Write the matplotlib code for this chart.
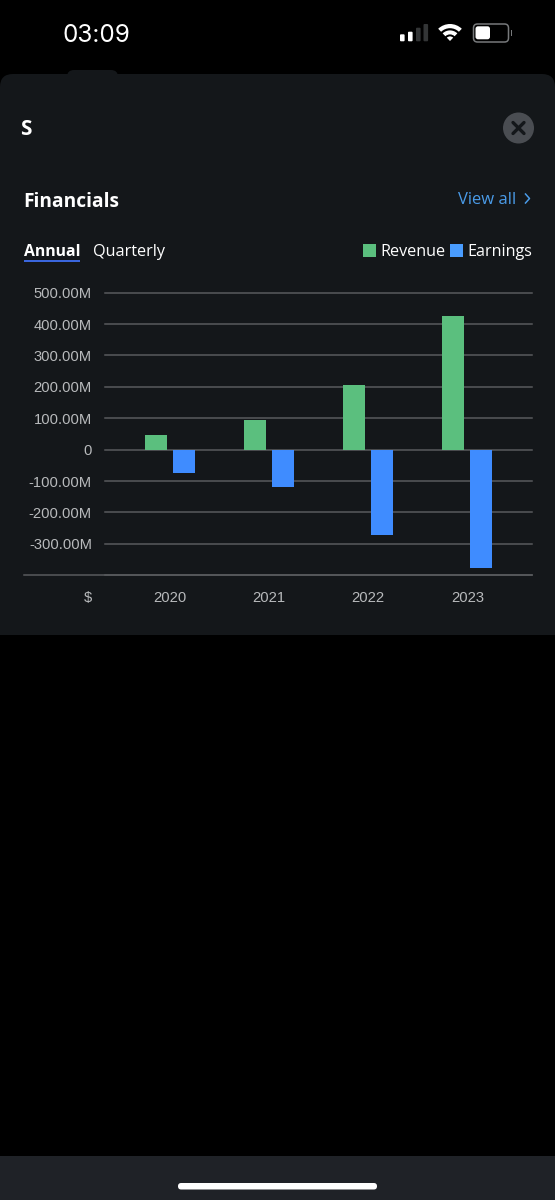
"""Dark mobile financials card: annual revenue and earnings bars."""

import matplotlib
matplotlib.use("Agg")
import matplotlib.pyplot as plt
import numpy as np
from matplotlib.patches import Circle, FancyBboxPatch, Rectangle, Wedge

years = ["2020", "2021", "2022", "2023"]
revenue = [47, 94, 206, 425]
earnings = [-75, -118, -272, -378]
y_ticks = [500, 400, 300, 200, 100, 0, -100, -200, -300, -400]
y_labels = ["500.00M", "400.00M", "300.00M", "200.00M", "100.00M", "0",
            "-100.00M", "-200.00M", "-300.00M", ""]

GREEN = "#5BBF7E"
BLUE = "#3F8CFF"
PANEL = "#14171A"
GRID = "#585A5D"
TICK_TEXT = "#B8BABC"
UI_FONT = "Open Sans"
W, H = 555, 1200

fig = plt.figure(figsize=(W / 100, H / 100), dpi=100, facecolor="black")

# full-figure layer in pixel coordinates for the app chrome
ui = fig.add_axes([0, 0, 1, 1], zorder=0)
ui.set_xlim(0, W)
ui.set_ylim(H, 0)
ui.axis("off")


def round_box(x, y, w, h, r, color):
    ui.add_patch(FancyBboxPatch((x + r, y + r), w - 2 * r, h - 2 * r,
                                boxstyle=f"round,pad={r},rounding_size={r}",
                                fc=color, ec="none"))


# status bar
ui.text(96, 35, "03:09", color="white", fontsize=17.5, family="Inter",
        ha="center", va="center")
for x, top, col in [(400, 34.3, "white"), (408, 31.7, "white"),
                    (416, 27.7, "#333536"), (423.5, 24, "#333536")]:
    round_box(x, top, 4.6, 41.3 - top, 1.0, col)
for r_out, width in [(17, 4.2), (10.6, 4.0), (4.6, 4.6)]:
    ui.add_patch(Wedge((450, 41), r_out, 226, 314, width=width, fc="white", ec="none"))
ui.add_patch(FancyBboxPatch((475, 25.5), 32, 15, boxstyle="round,pad=1.5,rounding_size=4",
                            fc="none", ec="#77797B", lw=1.1))
round_box(475.5, 26.3, 14.5, 13, 2.5, "white")
ui.add_patch(Rectangle((511, 30), 1.4, 6, fc="#77797B", ec="none"))

# card and bottom bar, only the top corners of the card are rounded
round_box(67, 70, 51, 20, 7, PANEL)
round_box(0, 74, W, 561, 13, PANEL)
ui.add_patch(Rectangle((0, 600), W, 35, fc=PANEL, ec="none"))
ui.add_patch(Rectangle((0, 1156), W, 44, fc="#1F2227", ec="none"))
round_box(178, 1183, 199, 6.5, 3.2, "white")

# header
ui.text(20.5, 129.5, "S", color="white", fontsize=15, fontweight="bold", family=UI_FONT,
        ha="left", va="center")
ui.add_patch(Circle((518.5, 128), 15.5, fc="#4A4D52", ec="none"))
ui.plot([513, 524], [122.5, 133.5], color="#14171A", lw=2.4, solid_capstyle="round")
ui.plot([513, 524], [133.5, 122.5], color="#14171A", lw=2.4, solid_capstyle="round")

ui.text(23.5, 202, "Financials", color="white", fontsize=13.8, fontweight="bold",
        family=UI_FONT, ha="left", va="center")
ui.text(458, 199.5, "View all", color="#4A9BE8", fontsize=12, family=UI_FONT,
        ha="left", va="center")
ui.plot([525.5, 529.5, 525.5], [194, 198.5, 203], color="#4A9BE8", lw=1.1)

# tabs
ui.text(23.5, 251.5, "Annual", color="white", fontsize=11.3, fontweight="bold",
        family=UI_FONT, ha="left", va="center")
ui.add_patch(Rectangle((23.5, 259.5), 56.5, 2.4, fc="#3A66DD", ec="none"))
ui.text(93, 251.5, "Quarterly", color="white", fontsize=11.7, family=UI_FONT,
        ha="left", va="center")

# legend
ui.add_patch(Rectangle((363, 244), 12.5, 13, fc=GREEN, ec="none"))
ui.text(380, 252.5, "Revenue", color="white", fontsize=11.6, family=UI_FONT,
        ha="left", va="center")
ui.add_patch(Rectangle((450, 244), 12.5, 13, fc="#4A9DFF", ec="none"))
ui.text(467, 252.5, "Earnings", color="white", fontsize=11.6, family=UI_FONT,
        ha="left", va="center")

# the bottom rule runs under the y labels too
ui.plot([24, 531.5], [575.3, 575.3], color=GRID, lw=1.1)
ui.text(92, 598, "$", color=TICK_TEXT, fontsize=10.6, family="Liberation Sans",
        ha="right", va="center")

# chart, axes box placed so the value scale lands on the gridlines
left, right = 105, 531.5
top, bottom = 292.6, 575.3
ax = fig.add_axes([left / W, 1 - bottom / H, (right - left) / W, (bottom - top) / H], zorder=1)
ax.patch.set_alpha(0)

x = np.arange(len(years))
step = 99.3
bar_w = 22 / step
offset = 14 / step
ax.set_axisbelow(True)
ax.bar(x - offset, revenue, bar_w, color=GREEN, zorder=3)
ax.bar(x + offset, earnings, bar_w, color=BLUE, zorder=3)

ax.set_xlim((left - 169.5) / step, (right - 169.5) / step)
ax.set_ylim(-400, 500)
ax.set_yticks(y_ticks, y_labels)
ax.set_xticks(x, years)
ax.grid(axis="y", color=GRID, lw=1.1)
ax.grid(axis="x", visible=False)
# top gridline sits on the axes edge, don't let it get cut in half
for line in ax.get_ygridlines():
    line.set_clip_on(False)
ax.tick_params(axis="both", length=0, labelcolor=TICK_TEXT, labelsize=10.6)
ax.tick_params(axis="y", pad=9.4)
ax.tick_params(axis="x", pad=11)
for label in ax.get_xticklabels() + ax.get_yticklabels():
    label.set_family("Liberation Sans")
for spine in ax.spines.values():
    spine.set_visible(False)

fig.savefig("out.png", dpi=100, facecolor="black")
